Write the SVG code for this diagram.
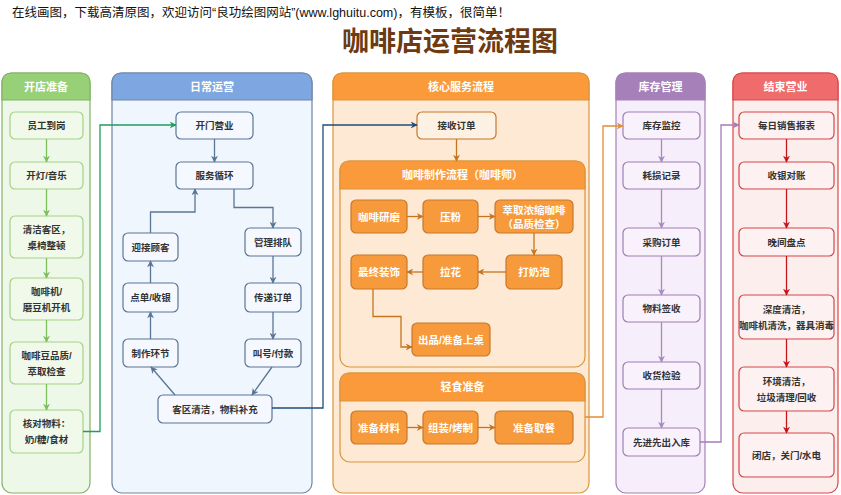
<svg xmlns="http://www.w3.org/2000/svg" width="841" height="495" viewBox="0 0 841 495">
<style>
text{font-family:"Liberation Sans","Noto Sans CJK SC",sans-serif;}
.t{font-size:9.5px;font-weight:bold;fill:#333;text-anchor:middle;dominant-baseline:central;}
.tw{font-size:10.5px;font-weight:bold;fill:#fff;text-anchor:middle;dominant-baseline:central;}
.h{font-size:11px;font-weight:bold;fill:#fff;text-anchor:middle;dominant-baseline:central;}
.gc{fill:#eef8e8;stroke:#82b366;stroke-width:1.2;}
.gh{fill:#97d077;stroke:#82b366;stroke-width:1.2;}
.gn{fill:#f0f9ea;stroke:#a3d387;stroke-width:1.2;}
.bc{fill:#f0f6fd;stroke:#6f86a6;stroke-width:1.2;}
.bh{fill:#7ea6e0;stroke:#6f86a6;stroke-width:1.2;}
.bn{fill:#f5f9ff;stroke:#5a7596;stroke-width:1.2;}
.oc{fill:#fde9d4;stroke:#d9963d;stroke-width:1.2;}
.oh{fill:#fa9a3a;stroke:#d9963d;stroke-width:1.2;}
.on{fill:#f79a3b;stroke:#c8782a;stroke-width:1.2;}
.ol{fill:#fdf1e4;stroke:#c8782a;stroke-width:1.2;}
.pc{fill:#f6eefa;stroke:#a680b8;stroke-width:1.2;}
.ph{fill:#a680b8;stroke:#a680b8;stroke-width:1.2;}
.pn{fill:#f9f2fc;stroke:#a07cb4;stroke-width:1.2;}
.rc{fill:#fdeeee;stroke:#d84a4a;stroke-width:1.2;}
.rh{fill:#f06b6b;stroke:#d84a4a;stroke-width:1.2;}
.rn{fill:#fdf1f1;stroke:#d64747;stroke-width:1.2;}
.c{fill:none;stroke-width:1.3;}
</style>
<defs>
<marker id="mg" viewBox="0 0 10 10" refX="9" refY="5" markerWidth="7" markerHeight="7" orient="auto" markerUnits="userSpaceOnUse"><path d="M0,0 L10,5 L0,10 L3,5 Z" fill="#7cbf5a"/></marker>
<marker id="mG" viewBox="0 0 10 10" refX="9" refY="5" markerWidth="7" markerHeight="7" orient="auto" markerUnits="userSpaceOnUse"><path d="M0,0 L10,5 L0,10 L3,5 Z" fill="#1e9e5a"/></marker>
<marker id="mb" viewBox="0 0 10 10" refX="9" refY="5" markerWidth="7" markerHeight="7" orient="auto" markerUnits="userSpaceOnUse"><path d="M0,0 L10,5 L0,10 L3,5 Z" fill="#5a7596"/></marker>
<marker id="mB" viewBox="0 0 10 10" refX="9" refY="5" markerWidth="7" markerHeight="7" orient="auto" markerUnits="userSpaceOnUse"><path d="M0,0 L10,5 L0,10 L3,5 Z" fill="#1f4e79"/></marker>
<marker id="mo" viewBox="0 0 10 10" refX="9" refY="5" markerWidth="7" markerHeight="7" orient="auto" markerUnits="userSpaceOnUse"><path d="M0,0 L10,5 L0,10 L3,5 Z" fill="#c5741f"/></marker>
<marker id="mO" viewBox="0 0 10 10" refX="9" refY="5" markerWidth="7" markerHeight="7" orient="auto" markerUnits="userSpaceOnUse"><path d="M0,0 L10,5 L0,10 L3,5 Z" fill="#e08f35"/></marker>
<marker id="mp" viewBox="0 0 10 10" refX="9" refY="5" markerWidth="7" markerHeight="7" orient="auto" markerUnits="userSpaceOnUse"><path d="M0,0 L10,5 L0,10 L3,5 Z" fill="#a68bc0"/></marker>
<marker id="mP" viewBox="0 0 10 10" refX="9" refY="5" markerWidth="7" markerHeight="7" orient="auto" markerUnits="userSpaceOnUse"><path d="M0,0 L10,5 L0,10 L3,5 Z" fill="#a57cb8"/></marker>
<marker id="mr" viewBox="0 0 10 10" refX="9" refY="5" markerWidth="7" markerHeight="7" orient="auto" markerUnits="userSpaceOnUse"><path d="M0,0 L10,5 L0,10 L3,5 Z" fill="#c4161c"/></marker>
</defs>
<rect width="841" height="495" fill="#fff"/>
<text x="12" y="13" font-size="12.5" fill="#111" dominant-baseline="central">在线画图，下载高清原图，欢迎访问“良功绘图网站”(www.lghuitu.com)，有模板，很简单！</text>
<text x="450" y="42" font-size="27" font-weight="bold" fill="#6d3a12" text-anchor="middle" dominant-baseline="central">咖啡店运营流程图</text>

<!-- Column 1 -->
<g id="lane-open">
<rect class="gc" x="2" y="73" width="88" height="420" rx="10"/>
<path class="gh" d="M2,100 L2,83 Q2,73 12,73 L80,73 Q90,73 90,83 L90,100 Z"/>
<text class="h" x="46" y="86.5">开店准备</text>
</g>
<g id="n-staff"><rect class="gn" x="10" y="112" width="73" height="27" rx="5"/><text class="t" x="46.5" y="125.5">员工到岗</text></g>
<g id="n-light"><rect class="gn" x="10" y="162" width="73" height="27" rx="5"/><text class="t" x="46.5" y="175.5">开灯/音乐</text></g>
<g id="n-clean"><rect class="gn" x="10" y="216" width="73" height="42" rx="5"/><text class="t" x="46.5" y="229">清洁客区，</text><text class="t" x="46.5" y="245">桌椅整顿</text></g>
<g id="n-machine"><rect class="gn" x="10" y="278" width="73" height="42" rx="5"/><text class="t" x="46.5" y="291">咖啡机/</text><text class="t" x="46.5" y="307">磨豆机开机</text></g>
<g id="n-bean"><rect class="gn" x="10" y="342" width="73" height="42" rx="5"/><text class="t" x="46.5" y="355">咖啡豆品质/</text><text class="t" x="46.5" y="371">萃取检查</text></g>
<g id="n-check"><rect class="gn" x="10" y="410" width="73" height="43" rx="5"/><text class="t" x="46.5" y="423.5">核对物料：</text><text class="t" x="46.5" y="439.5">奶/糖/食材</text></g>

<!-- Column 2 -->
<g id="lane-daily">
<rect class="bc" x="112" y="73" width="200" height="420" rx="10"/>
<path class="bh" d="M112,100 L112,83 Q112,73 122,73 L302,73 Q312,73 312,83 L312,100 Z"/>
<text class="h" x="212" y="86.5">日常运营</text>
</g>
<g id="n-opendoor"><rect class="bn" x="176" y="112" width="77" height="27" rx="5"/><text class="t" x="214.5" y="125.5">开门营业</text></g>
<g id="n-loop"><rect class="bn" x="176" y="162" width="77" height="27" rx="5"/><text class="t" x="214.5" y="175.5">服务循环</text></g>
<g id="n-greet"><rect class="bn" x="123" y="233" width="55" height="28" rx="5"/><text class="t" x="150.5" y="247">迎接顾客</text></g>
<g id="n-queue"><rect class="bn" x="245" y="228" width="56" height="28" rx="5"/><text class="t" x="273" y="242">管理排队</text></g>
<g id="n-order"><rect class="bn" x="123" y="283" width="55" height="29" rx="5"/><text class="t" x="150.5" y="297.5">点单/收银</text></g>
<g id="n-pass"><rect class="bn" x="245" y="283" width="56" height="29" rx="5"/><text class="t" x="273" y="297.5">传递订单</text></g>
<g id="n-make"><rect class="bn" x="123" y="339" width="55" height="28" rx="5"/><text class="t" x="150.5" y="353">制作环节</text></g>
<g id="n-call"><rect class="bn" x="245" y="339" width="56" height="28" rx="5"/><text class="t" x="273" y="353">叫号/付款</text></g>
<g id="n-area"><rect class="bn" x="158" y="395" width="114" height="28" rx="5"/><text class="t" x="215" y="409">客区清洁，物料补充</text></g>

<!-- Column 3 -->
<g id="lane-core">
<rect class="oc" x="333" y="73" width="256" height="420" rx="10"/>
<path class="oh" d="M333,100 L333,83 Q333,73 343,73 L579,73 Q589,73 589,83 L589,100 Z"/>
<text class="h" x="461" y="86.5">核心服务流程</text>
</g>
<g id="n-receive"><rect class="ol" x="417" y="112" width="79" height="27" rx="5"/><text class="t" x="456.5" y="125.5">接收订单</text></g>
<g id="sub-coffee">
<rect class="oc" x="340" y="161" width="245" height="206" rx="10"/>
<path class="oh" d="M340,189 L340,171 Q340,161 350,161 L575,161 Q585,161 585,171 L585,189 Z"/>
<text class="h" x="462.5" y="175">咖啡制作流程（咖啡师）</text>
</g>
<g id="n-grind"><rect class="on" x="351" y="200" width="56" height="33" rx="5"/><text class="tw" x="379" y="216.5">咖啡研磨</text></g>
<g id="n-tamp"><rect class="on" x="423" y="200" width="55" height="33" rx="5"/><text class="tw" x="450.5" y="216.5">压粉</text></g>
<g id="n-extract"><rect class="on" x="495" y="200" width="78" height="33" rx="5"/><text class="tw" x="534" y="209.5">萃取浓缩咖啡</text><text class="tw" x="534" y="223.5">（品质检查）</text></g>
<g id="n-deco"><rect class="on" x="351" y="255" width="56" height="34" rx="5"/><text class="tw" x="379" y="272">最终装饰</text></g>
<g id="n-art"><rect class="on" x="423" y="255" width="55" height="34" rx="5"/><text class="tw" x="450.5" y="272">拉花</text></g>
<g id="n-froth"><rect class="on" x="506" y="255" width="56" height="34" rx="5"/><text class="tw" x="534" y="272">打奶泡</text></g>
<g id="n-serve"><rect class="on" x="412" y="323" width="78" height="33" rx="5"/><text class="tw" x="451" y="339.5">出品/准备上桌</text></g>
<g id="sub-food">
<rect class="oc" x="340" y="373" width="245" height="89" rx="10"/>
<path class="oh" d="M340,401 L340,383 Q340,373 350,373 L575,373 Q585,373 585,383 L585,401 Z"/>
<text class="h" x="462.5" y="387">轻食准备</text>
</g>
<g id="n-mat"><rect class="on" x="351" y="411" width="56" height="33" rx="5"/><text class="tw" x="379" y="427.5">准备材料</text></g>
<g id="n-bake"><rect class="on" x="423" y="411" width="55" height="33" rx="5"/><text class="tw" x="450.5" y="427.5">组装/烤制</text></g>
<g id="n-pickup"><rect class="on" x="495" y="411" width="78" height="33" rx="5"/><text class="tw" x="534" y="427.5">准备取餐</text></g>

<!-- Column 4 -->
<g id="lane-stock">
<rect class="pc" x="616" y="73" width="89" height="420" rx="10"/>
<path class="ph" d="M616,100 L616,83 Q616,73 626,73 L695,73 Q705,73 705,83 L705,100 Z"/>
<text class="h" x="660.5" y="86.5">库存管理</text>
</g>
<g id="n-monitor"><rect class="pn" x="623" y="112" width="77" height="27" rx="5"/><text class="t" x="661.5" y="125.5">库存监控</text></g>
<g id="n-loss"><rect class="pn" x="623" y="162" width="77" height="27" rx="5"/><text class="t" x="661.5" y="175.5">耗损记录</text></g>
<g id="n-purchase"><rect class="pn" x="623" y="228" width="77" height="28" rx="5"/><text class="t" x="661.5" y="242">采购订单</text></g>
<g id="n-sign"><rect class="pn" x="623" y="295" width="77" height="27" rx="5"/><text class="t" x="661.5" y="308.5">物料签收</text></g>
<g id="n-inspect"><rect class="pn" x="623" y="362" width="77" height="27" rx="5"/><text class="t" x="661.5" y="375.5">收货检验</text></g>
<g id="n-fifo"><rect class="pn" x="623" y="428" width="77" height="28" rx="5"/><text class="t" x="661.5" y="442">先进先出入库</text></g>

<!-- Column 5 -->
<g id="lane-close">
<rect class="rc" x="733" y="73" width="105" height="420" rx="10"/>
<path class="rh" d="M733,100 L733,83 Q733,73 743,73 L828,73 Q838,73 838,83 L838,100 Z"/>
<text class="h" x="785.5" y="86.5">结束营业</text>
</g>
<g id="n-report"><rect class="rn" x="739" y="112" width="95" height="27" rx="5"/><text class="t" x="786.5" y="125.5">每日销售报表</text></g>
<g id="n-reconcile"><rect class="rn" x="739" y="162" width="95" height="27" rx="5"/><text class="t" x="786.5" y="175.5">收银对账</text></g>
<g id="n-count"><rect class="rn" x="739" y="228" width="95" height="28" rx="5"/><text class="t" x="786.5" y="242">晚间盘点</text></g>
<g id="n-deep"><rect class="rn" x="739" y="295" width="95" height="44" rx="5"/><text class="t" x="786.5" y="309">深度清洁，</text><text class="t" x="786.5" y="325">咖啡机清洗，器具消毒</text></g>
<g id="n-env"><rect class="rn" x="739" y="367" width="95" height="44" rx="5"/><text class="t" x="786.5" y="381">环境清洁，</text><text class="t" x="786.5" y="397">垃圾清理/回收</text></g>
<g id="n-shut"><rect class="rn" x="739" y="433" width="95" height="44" rx="5"/><text class="t" x="786.5" y="455">闭店，关门/水电</text></g>

<g id="connectors">
<path class="c" stroke="#7cbf5a" d="M46.5,139 V162" marker-end="url(#mg)"/>
<path class="c" stroke="#7cbf5a" d="M46.5,189 V216" marker-end="url(#mg)"/>
<path class="c" stroke="#7cbf5a" d="M46.5,258 V278" marker-end="url(#mg)"/>
<path class="c" stroke="#7cbf5a" d="M46.5,320 V342" marker-end="url(#mg)"/>
<path class="c" stroke="#7cbf5a" d="M46.5,384 V410" marker-end="url(#mg)"/>
<path class="c" stroke="#1e9e5a" d="M83,431.5 H100 V125 H176" marker-end="url(#mG)"/>
<path class="c" stroke="#5a7596" d="M214.5,139 V162" marker-end="url(#mb)"/>
<path class="c" stroke="#5a7596" d="M150.5,233 V212 H195 V189" marker-end="url(#mb)"/>
<path class="c" stroke="#5a7596" d="M234,189 V207.5 H273 V228" marker-end="url(#mb)"/>
<path class="c" stroke="#5a7596" d="M273,256 V283" marker-end="url(#mb)"/>
<path class="c" stroke="#5a7596" d="M273,312 V339" marker-end="url(#mb)"/>
<path class="c" stroke="#5a7596" d="M272,367 L252,395" marker-end="url(#mb)"/>
<path class="c" stroke="#5a7596" d="M175,395 L151,367" marker-end="url(#mb)"/>
<path class="c" stroke="#5a7596" d="M150.5,339 V312" marker-end="url(#mb)"/>
<path class="c" stroke="#5a7596" d="M150.5,283 V261" marker-end="url(#mb)"/>
<path class="c" stroke="#1f4e79" d="M272,408 H323 V125 H417" marker-end="url(#mB)"/>
<path class="c" stroke="#c5741f" d="M456.5,139 V161" marker-end="url(#mo)"/>
<path class="c" stroke="#c5741f" d="M407,216.5 H423" marker-end="url(#mo)"/>
<path class="c" stroke="#c5741f" d="M478,216.5 H495" marker-end="url(#mo)"/>
<path class="c" stroke="#c5741f" d="M534,233 V255" marker-end="url(#mo)"/>
<path class="c" stroke="#c5741f" d="M506,272 H478" marker-end="url(#mo)"/>
<path class="c" stroke="#c5741f" d="M423,272 H407" marker-end="url(#mo)"/>
<path class="c" stroke="#c5741f" d="M373,289 V316.5 H401 V347 H412" marker-end="url(#mo)"/>
<path class="c" stroke="#c5741f" d="M407,427.5 H423" marker-end="url(#mo)"/>
<path class="c" stroke="#c5741f" d="M478,427.5 H495" marker-end="url(#mo)"/>
<path class="c" stroke="#e08f35" d="M585,417 H603 V126 H623" marker-end="url(#mO)"/>
<path class="c" stroke="#a68bc0" d="M661.5,139 V162" marker-end="url(#mp)"/>
<path class="c" stroke="#a68bc0" d="M661.5,189 V228" marker-end="url(#mp)"/>
<path class="c" stroke="#a68bc0" d="M661.5,256 V295" marker-end="url(#mp)"/>
<path class="c" stroke="#a68bc0" d="M661.5,322 V362" marker-end="url(#mp)"/>
<path class="c" stroke="#a68bc0" d="M661.5,389 V428" marker-end="url(#mp)"/>
<path class="c" stroke="#a57cb8" d="M700,442 H721 V125 H739" marker-end="url(#mP)"/>
<path class="c" stroke="#c4161c" d="M786.5,139 V162" marker-end="url(#mr)"/>
<path class="c" stroke="#c4161c" d="M786.5,189 V228" marker-end="url(#mr)"/>
<path class="c" stroke="#c4161c" d="M786.5,256 V295" marker-end="url(#mr)"/>
<path class="c" stroke="#c4161c" d="M786.5,339 V367" marker-end="url(#mr)"/>
<path class="c" stroke="#c4161c" d="M786.5,411 V433" marker-end="url(#mr)"/>
</g>
</svg>
